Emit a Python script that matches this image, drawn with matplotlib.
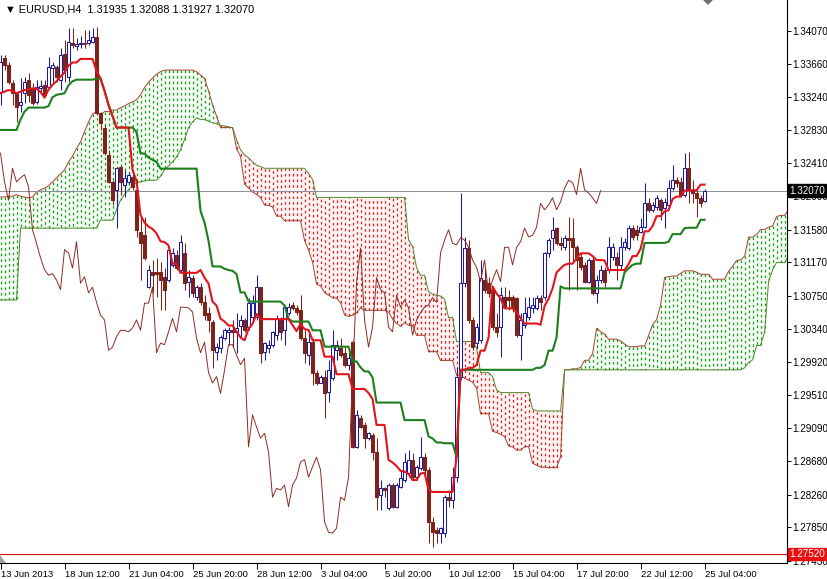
import numpy as np
import matplotlib
matplotlib.use("Agg")
import matplotlib.pyplot as plt
from matplotlib.patches import Polygon
from matplotlib.transforms import blended_transform_factory

plt.rcParams['font.family'] = ['Liberation Sans', 'DejaVu Sans']

symbol = "EURUSD,H4"
date_labels = ["13 Jun 2013", "18 Jun 12:00", "21 Jun 04:00", "25 Jun 20:00", "28 Jun 12:00",
               "3 Jul 04:00", "5 Jul 20:00", "10 Jul 12:00", "15 Jul 04:00", "17 Jul 20:00",
               "22 Jul 12:00", "25 Jul 04:00"]
price_ticks = [1.34070, 1.33660, 1.33240, 1.32830, 1.32410, 1.32000, 1.31580, 1.31170, 1.30750,
               1.30340, 1.29920, 1.29510, 1.29090, 1.28680, 1.28260, 1.27850, 1.27430]
alert_level = 1.27520

# H4 candles, 13 Jun 20:00 -> 25 Jul 04:00
opens = [1.3331, 1.3373, 1.3364, 1.3342, 1.3329, 1.3314, 1.3329, 1.3346, 1.3336, 1.3318,
         1.3336, 1.3339, 1.3337, 1.3361, 1.3362, 1.3346, 1.3378, 1.3349, 1.3392, 1.3388,
         1.3391, 1.3392, 1.3392, 1.3393, 1.3399, 1.3304, 1.3286, 1.3252, 1.3218, 1.3208,
         1.3237, 1.3214, 1.3218, 1.3224, 1.3208, 1.3155, 1.3151, 1.3086, 1.3105, 1.3105,
         1.3105, 1.3099, 1.3095, 1.3114, 1.3126, 1.3108, 1.3129, 1.3093, 1.3098, 1.3074,
         1.3086, 1.3067, 1.3054, 1.3042, 1.3005, 1.3010, 1.3022, 1.3030, 1.3032, 1.3030,
         1.3037, 1.3045, 1.3036, 1.3049, 1.3049, 1.3086, 1.3005, 1.3010, 1.3014, 1.3026,
         1.3045, 1.3032, 1.3054, 1.3064, 1.3060, 1.3057, 1.3022, 1.3001, 1.3017, 1.2979,
         1.2966, 1.2974, 1.2955, 1.2972, 1.3007, 1.3010, 1.3004, 1.2989, 1.3017, 1.2886,
         1.2922, 1.2913, 1.2897, 1.2901, 1.2880, 1.2826, 1.2834, 1.2809, 1.2838, 1.2811,
         1.2836, 1.2845, 1.2853, 1.2870, 1.2848, 1.2860, 1.2873, 1.2857, 1.2792, 1.2782,
         1.2778, 1.2778, 1.2823, 1.2819, 1.2848, 1.2974, 1.3091, 1.3135, 1.3045, 1.3016,
         1.3020, 1.3095, 1.3091, 1.3083, 1.3036, 1.3036, 1.3074, 1.3074, 1.3074, 1.3073,
         1.3026, 1.3039, 1.3049, 1.3060, 1.3060, 1.3073, 1.3074, 1.3129, 1.3148, 1.3160,
         1.3141, 1.3136, 1.3148, 1.3148, 1.3136, 1.3124, 1.3114, 1.3093, 1.3120, 1.3079,
         1.3095, 1.3108, 1.3108, 1.3124, 1.3124, 1.3114, 1.3136, 1.3135, 1.3160, 1.3158,
         1.3155, 1.3161, 1.3191, 1.3183, 1.3186, 1.3195, 1.3185, 1.3189, 1.3210, 1.3220,
         1.3218, 1.3202, 1.3235, 1.3208, 1.3204, 1.3198, 1.31935]
highs = [1.3377, 1.3377, 1.3368, 1.3346, 1.3331, 1.3348, 1.3349, 1.3354, 1.3342, 1.3346,
         1.3346, 1.3346, 1.3374, 1.3368, 1.3364, 1.3386, 1.3396, 1.3411, 1.3411, 1.3398,
         1.3401, 1.3408, 1.3408, 1.3411, 1.3412, 1.3306, 1.3289, 1.3258, 1.3220, 1.3237,
         1.3239, 1.3233, 1.3230, 1.3228, 1.3220, 1.3174, 1.3174, 1.3114, 1.3120, 1.3123,
         1.3118, 1.3110, 1.3135, 1.3135, 1.3133, 1.3151, 1.3141, 1.3108, 1.3101, 1.3089,
         1.3091, 1.3076, 1.3061, 1.3045, 1.3016, 1.3026, 1.3035, 1.3036, 1.3045, 1.3054,
         1.3051, 1.3047, 1.3073, 1.3076, 1.3101, 1.3086, 1.3017, 1.3020, 1.3031, 1.3051,
         1.3049, 1.3064, 1.3066, 1.3067, 1.3064, 1.3076, 1.3032, 1.3031, 1.3022, 1.2982,
         1.2976, 1.2982, 1.2995, 1.3032, 1.3020, 1.3022, 1.3011, 1.3007, 1.3020, 1.2932,
         1.2926, 1.2917, 1.2905, 1.2903, 1.2897, 1.2844, 1.2836, 1.2841, 1.2841, 1.2841,
         1.2857, 1.2878, 1.2882, 1.2878, 1.2863, 1.2898, 1.2878, 1.2861, 1.2798, 1.2786,
         1.2786, 1.2826, 1.2832, 1.2861, 1.2986, 1.3204, 1.3149, 1.3145, 1.3049, 1.3041,
         1.3120, 1.3111, 1.3099, 1.3086, 1.3054, 1.3086, 1.3086, 1.3083, 1.3076, 1.3074,
         1.3054, 1.3074, 1.3074, 1.3074, 1.3076, 1.3076, 1.3130, 1.3148, 1.3174, 1.3161,
         1.3149, 1.3151, 1.3174, 1.3173, 1.3139, 1.3129, 1.3118, 1.3123, 1.3124, 1.3101,
         1.3114, 1.3111, 1.3149, 1.3141, 1.3130, 1.3149, 1.3148, 1.3164, 1.3164, 1.3164,
         1.3173, 1.3217, 1.3198, 1.3193, 1.3202, 1.3198, 1.3198, 1.3220, 1.3239, 1.3224,
         1.3224, 1.3254, 1.3255, 1.3220, 1.3208, 1.3202, 1.32088]
lows = [1.3314, 1.3358, 1.3341, 1.3314, 1.3293, 1.3305, 1.3317, 1.3318, 1.3314, 1.3316,
        1.3329, 1.3324, 1.3334, 1.3343, 1.3343, 1.3333, 1.3343, 1.3343, 1.3386, 1.3383,
        1.3386, 1.3386, 1.3389, 1.3392, 1.3302, 1.3283, 1.3252, 1.3217, 1.3189, 1.3160,
        1.3202, 1.3199, 1.3215, 1.3208, 1.3149, 1.3095, 1.3120, 1.3085, 1.3079, 1.3074,
        1.3057, 1.3057, 1.3093, 1.3111, 1.3108, 1.3105, 1.3083, 1.3074, 1.3074, 1.3070,
        1.3064, 1.3045, 1.3030, 1.2985, 1.2995, 1.3004, 1.3020, 1.3014, 1.3011, 1.3004,
        1.3024, 1.3030, 1.3032, 1.3045, 1.3045, 1.2991, 1.2995, 1.3004, 1.3011, 1.3020,
        1.3020, 1.3014, 1.3051, 1.3057, 1.3051, 1.3020, 1.2991, 1.2989, 1.2963, 1.2963,
        1.2966, 1.2922, 1.2942, 1.2970, 1.2995, 1.2999, 1.2986, 1.2982, 1.2885, 1.2885,
        1.2910, 1.2885, 1.2895, 1.2870, 1.2807, 1.2807, 1.2823, 1.2807, 1.2809, 1.2809,
        1.2835, 1.2842, 1.2848, 1.2845, 1.2845, 1.2857, 1.2848, 1.2766, 1.2761, 1.2766,
        1.2766, 1.2773, 1.2811, 1.2809, 1.2842, 1.2970, 1.3086, 1.3041, 1.3007, 1.3010,
        1.3016, 1.3079, 1.3074, 1.3032, 1.3024, 1.2999, 1.3060, 1.3057, 1.3055, 1.3024,
        1.2995, 1.3035, 1.3045, 1.3054, 1.3057, 1.3057, 1.3070, 1.3124, 1.3133, 1.3139,
        1.3133, 1.3133, 1.3083, 1.3118, 1.3083, 1.3108, 1.3091, 1.3091, 1.3076, 1.3066,
        1.3091, 1.3086, 1.3104, 1.3120, 1.3095, 1.3108, 1.3133, 1.3133, 1.3145, 1.3145,
        1.3154, 1.3160, 1.3180, 1.3180, 1.3183, 1.3170, 1.3160, 1.3186, 1.3208, 1.3212,
        1.3199, 1.3199, 1.3191, 1.3191, 1.3174, 1.3186, 1.31927]
closes = [1.3368, 1.3364, 1.3343, 1.3329, 1.3312, 1.3318, 1.3343, 1.3327, 1.3317, 1.3337,
          1.3338, 1.3327, 1.3362, 1.3364, 1.3349, 1.3377, 1.3358, 1.3393, 1.3389, 1.3391,
          1.3392, 1.3391, 1.3396, 1.3399, 1.3304, 1.3292, 1.3254, 1.3218, 1.3195, 1.3235,
          1.3218, 1.3223, 1.3227, 1.3212, 1.3158, 1.3141, 1.3123, 1.3108, 1.3101, 1.3103,
          1.3095, 1.3083, 1.3133, 1.3129, 1.3110, 1.3143, 1.3091, 1.3099, 1.3079, 1.3086,
          1.3067, 1.3051, 1.3045, 1.3007, 1.3011, 1.3024, 1.3032, 1.3032, 1.3030, 1.3035,
          1.3045, 1.3032, 1.3066, 1.3066, 1.3086, 1.3004, 1.3016, 1.3014, 1.3030, 1.3047,
          1.3030, 1.3061, 1.3061, 1.3060, 1.3055, 1.3022, 1.3004, 1.3017, 1.2979, 1.2966,
          1.2974, 1.2953, 1.2982, 1.3014, 1.3014, 1.3001, 1.2989, 1.2997, 1.2886, 1.2926,
          1.2911, 1.2897, 1.2903, 1.2880, 1.2823, 1.2834, 1.2832, 1.2838, 1.2811, 1.2838,
          1.2847, 1.2867, 1.2870, 1.2848, 1.2861, 1.2873, 1.2857, 1.2792, 1.2779, 1.2778,
          1.2784, 1.2823, 1.2819, 1.2848, 1.2974, 1.3091, 1.3135, 1.3045, 1.3011, 1.3036,
          1.3098, 1.3083, 1.3079, 1.3036, 1.3030, 1.3076, 1.3061, 1.3070, 1.3060, 1.3026,
          1.3045, 1.3054, 1.3061, 1.3064, 1.3073, 1.3067, 1.3129, 1.3145, 1.3158, 1.3141,
          1.3139, 1.3148, 1.3145, 1.3136, 1.3120, 1.3111, 1.3093, 1.3120, 1.3079, 1.3095,
          1.3108, 1.3093, 1.3136, 1.3136, 1.3114, 1.3136, 1.3143, 1.3160, 1.3149, 1.3151,
          1.3161, 1.3191, 1.3183, 1.3189, 1.3198, 1.3183, 1.3193, 1.3210, 1.3220, 1.3217,
          1.3202, 1.3235, 1.3208, 1.3204, 1.3198, 1.3191, 1.32070]

# indicator values on the left edge (need history from before the first visible bar)
tenkan_start = [1.3329, 1.3331, 1.3333, 1.3332, 1.3329, 1.3331, 1.3333, 1.3334]
kijun_start = [1.3283, 1.3283, 1.3283, 1.3283, 1.3283, 1.3296, 1.3306, 1.3311, 1.3311, 1.3311,
               1.3311, 1.3311, 1.3313, 1.3324, 1.3327, 1.3328, 1.3329, 1.3339, 1.3344, 1.3346,
               1.3346, 1.3346, 1.3346, 1.3346, 1.3347]
span_a_start = [1.3199, 1.3199, 1.3200, 1.3200, 1.3202, 1.3200, 1.3199, 1.3198, 1.3199, 1.3205,
                1.3208, 1.3210, 1.3213, 1.3218, 1.3223, 1.3228, 1.3233, 1.3243, 1.3250, 1.3260,
                1.3268, 1.3281, 1.3293, 1.3303, 1.3306, 1.3302, 1.3306, 1.3306, 1.3308, 1.3308,
                1.3311, 1.3313, 1.3316, 1.3318, 1.3321, 1.3327, 1.3336, 1.3343, 1.3348, 1.3353,
                1.3356, 1.3358, 1.3358, 1.3358, 1.3358, 1.3358, 1.3358, 1.3358, 1.3358, 1.3356,
                1.3352]
span_b_start = [1.3070, 1.3070, 1.3070, 1.3070, 1.3070, 1.3160, 1.3160, 1.3160, 1.3160, 1.3160,
                1.3160, 1.3160, 1.3160, 1.3160, 1.3160, 1.3160, 1.3160, 1.3160, 1.3160, 1.3160,
                1.3160, 1.3160, 1.3160, 1.3160, 1.3160, 1.3170, 1.3170, 1.3170, 1.3170, 1.3183,
                1.3195, 1.3202, 1.3208, 1.3214, 1.3217, 1.3218, 1.3219, 1.3220, 1.3220, 1.3220,
                1.3225, 1.3233, 1.3238, 1.3243, 1.3249, 1.3258, 1.3271, 1.3286, 1.3293, 1.3298,
                1.3296, 1.3296, 1.3294, 1.3292, 1.3291, 1.3289, 1.3288, 1.3287, 1.3286, 1.3271,
                1.3258, 1.3252, 1.3248, 1.3243, 1.3239, 1.3237, 1.3235, 1.3235, 1.3235, 1.3235,
                1.3235, 1.3235, 1.3235, 1.3235, 1.3235, 1.3235, 1.3235]

o = np.array(opens)
h = np.array(highs)
l = np.array(lows)
c = np.array(closes)
n = len(c)
shift = 26
m = n + shift

# ichimoku 9/26/52
tenkan = np.array(tenkan_start + [(h[i-8:i+1].max() + l[i-8:i+1].min()) / 2 for i in range(8, n)])
kijun = np.array(kijun_start + [(h[i-25:i+1].max() + l[i-25:i+1].min()) / 2 for i in range(25, n)])
span_a = np.array(span_a_start + [(tenkan[j-shift] + kijun[j-shift]) / 2 for j in range(51, m)])
span_b = np.array(span_b_start + [(h[j-77:j-25].max() + l[j-77:j-25].min()) / 2 for j in range(77, m)])

bull_col = '#1c1c9a'
bear_col = '#7d2318'
tenkan_col = '#e3141c'
kijun_col = '#1c7f1c'
chikou_col = '#8e2b22'
cloud_up = '#1a9e1a'
cloud_dn = '#e02020'

fig = plt.figure(figsize=(8.28, 5.79), dpi=100)
ax = fig.add_axes([0, 16/579, 787/828, 563/579])
ax.set_xlim(-0.125, 196.6)
ax.set_ylim(1.27405, 1.34458)

# cloud: dotted vertical line on every bar between the two spans
xs = np.arange(m)
bull = span_a >= span_b
dots = (0, (2, 2.5))
ax.vlines(xs[bull], span_a[bull], span_b[bull], color=cloud_up, lw=0.9, linestyles=[dots], zorder=1)
ax.vlines(xs[~bull], span_a[~bull], span_b[~bull], color=cloud_dn, lw=0.9, linestyles=[dots], zorder=1)
ax.fill_between(xs, span_a, span_b, where=bull, color=cloud_up, alpha=0.05, lw=0, interpolate=True, zorder=0.9)
ax.fill_between(xs, span_a, span_b, where=~bull, color=cloud_dn, alpha=0.05, lw=0, interpolate=True, zorder=0.9)
ax.plot(xs, span_a, color='#a3432f', lw=0.7, zorder=1.5)
ax.plot(xs, span_b, color='#4f8a2a', lw=0.7, zorder=1.5)

# candles
x = np.arange(n)
up = c >= o
ax.vlines(x[up], l[up], h[up], color=bull_col, lw=0.75, zorder=2)
ax.vlines(x[~up], l[~up], h[~up], color=bear_col, lw=0.75, zorder=2)
lo = np.minimum(o, c)
hgt = np.maximum(np.abs(c - o), 0.00003)
ax.bar(x[up], hgt[up], bottom=lo[up], width=0.6, facecolor='white', edgecolor=bull_col, lw=0.75, zorder=2.2)
ax.bar(x[~up], hgt[~up], bottom=lo[~up], width=0.6, facecolor=bear_col, edgecolor=bear_col, lw=0.75, zorder=2.2)

ax.plot(x[:-shift], c[shift:], color=chikou_col, lw=0.7, zorder=2.5)
ax.plot(x, kijun, color=kijun_col, lw=1.5, zorder=3)
ax.plot(x, tenkan, color=tenkan_col, lw=1.5, zorder=3.1)

ax.axhline(c[-1], color='#8a8f98', lw=0.7, zorder=1.8)
ax.axhline(alert_level, color='#d41414', lw=0.8, zorder=1.8)

for s in ['left', 'top']:
    ax.spines[s].set_visible(False)
for s in ['right', 'bottom']:
    ax.spines[s].set_linewidth(0.8)

ax.yaxis.tick_right()
ax.set_yticks(price_ticks)
ax.set_yticklabels([f"{p:.5f}" for p in price_ticks])
ax.tick_params(axis='y', direction='out', length=3, width=0.7, labelsize=7.1, pad=1)
ax.set_xticks(np.arange(0, n, 16))
ax.set_xticklabels(date_labels, ha='left')
ax.tick_params(axis='x', direction='out', length=4, width=0.7, labelsize=6.8, pad=1)

tr = blended_transform_factory(ax.transAxes, ax.transData)
ax.text(1.003, c[-1], f"{c[-1]:.5f}", transform=tr, color='white', fontsize=7.1, va='center', ha='left',
        bbox=dict(boxstyle='square,pad=0.12', fc='black', ec='black'), clip_on=False, zorder=10)
ax.text(1.003, alert_level, f"{alert_level:.5f}", transform=tr, color='white', fontsize=7.1, va='center', ha='left',
        bbox=dict(boxstyle='square,pad=0.12', fc='#e81010', ec='#e81010'), clip_on=False, zorder=10)

fig.text(0.006, 1 - 9/579, "\u25bc " + f"{symbol}  {o[-1]:.5f} {h[-1]:.5f} {l[-1]:.5f} {c[-1]:.5f}",
         fontsize=7.8, va='center', ha='left')

# small chart-shift / scroll markers of the terminal
fig.patches.append(Polygon([(703/828, 1.0), (713/828, 1.0), (708/828, 1 - 5/579)], closed=True,
                           transform=fig.transFigure, fc='#707070', ec='none'))
fig.patches.append(Polygon([(0, 1 - 555/579), (0, 1 - 563/579), (6/828, 1 - 563/579)], closed=True,
                           transform=fig.transFigure, fc='#a0a0a0', ec='none'))

fig.savefig("out.png", dpi=100)
